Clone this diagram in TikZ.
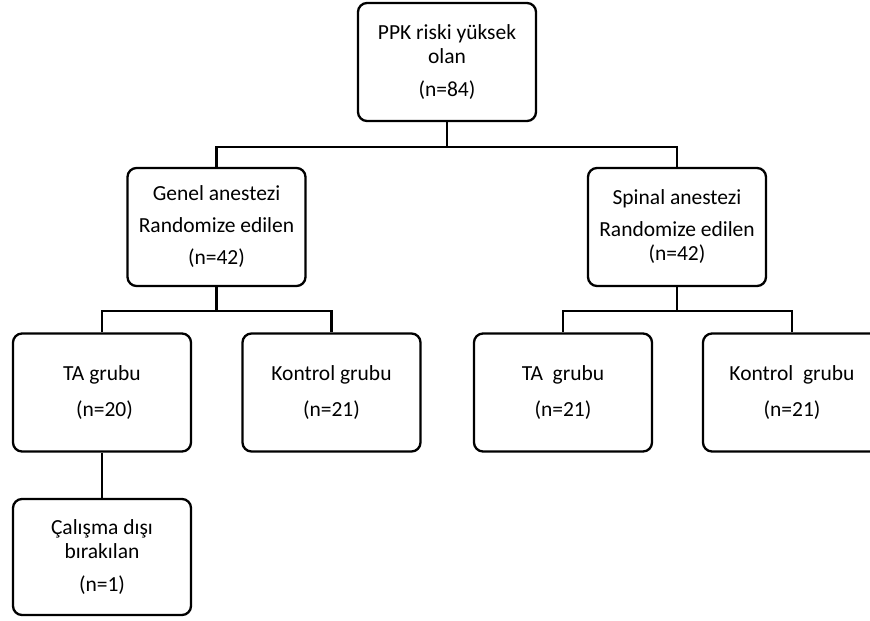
\documentclass[tikz,border=0pt]{standalone}
\usepackage{fontspec}
\setmainfont{Carlito}
\usetikzlibrary{calc}

\begin{document}
\begin{tikzpicture}[x=1pt, y=-1pt, line width=2.3pt,
    grp/.style={draw, rounded corners=9pt, minimum width=178pt, minimum height=118pt,
      align=center, inner sep=0pt, font=\fontsize{21.5}{24}\selectfont}]
  \useasboundingbox (0,0) rectangle (870,621);
  \clip (0,0) rectangle (870,621);
  \node [grp] (ppk) at (447, 62) {PPK riski yüksek\\olan\\[9pt](n=84)};
  \node [grp] (genel) at (216.5, 227) {Genel anestezi\\[8pt]Randomize edilen\\[8pt](n=42)};
  \node [grp] (spinal) at (677, 227) {Spinal anestezi\\[8pt]Randomize edilen\\(n=42)};
  \node [grp] (ta1) at (102, 392.5) {TA grubu\\[12pt]\ (n=20)};
  \node [grp] (kontrol1) at (331.5, 392.5) {Kontrol grubu\\[12pt](n=21)};
  \node [grp] (ta2) at (563, 392.5) {TA\ \ grubu\\[12pt](n=21)};
  \node [grp] (kontrol2) at (792, 392.5) {Kontrol\ \ grubu\\[12pt](n=21)};
  \node [grp, minimum height=116pt] (disi) at (102, 557) {Çalışma dışı\\bırakılan\\[9pt](n=1)};
  % connectors
  \draw (ppk.south) -- ++(0,25) -| (genel.north);
  \draw (ppk.south) ++(0,25) -| (spinal.north);
  \draw (genel.south) -- ++(0,24) -| (ta1.north);
  \draw (genel.south) ++(0,24) -| (kontrol1.north);
  \draw (spinal.south) -- ++(0,24) -| (ta2.north);
  \draw (spinal.south) ++(0,24) -| (kontrol2.north);
  \draw (ta1.south) -- (disi.north);
\end{tikzpicture}
\end{document}
